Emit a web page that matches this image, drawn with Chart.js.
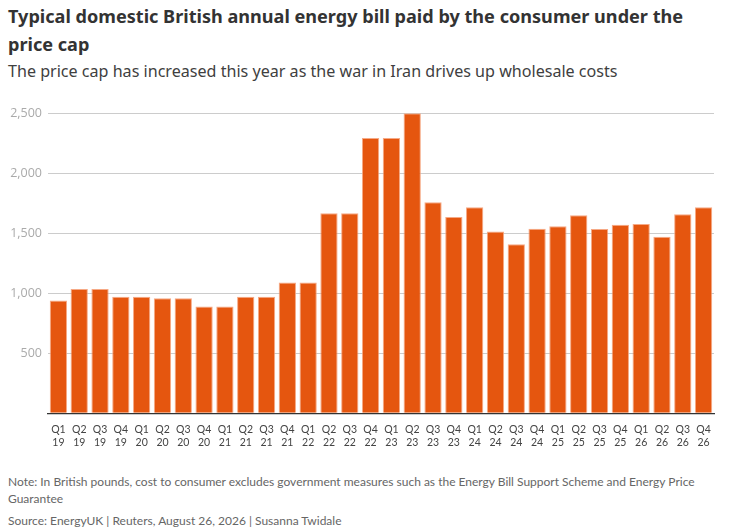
<!DOCTYPE html>
<html>
<head>
<meta charset="utf-8">
<script src="https://cdn.jsdelivr.net/npm/chart.js@4"></script>
<style>
  html, body { margin: 0; padding: 0; background: #fff; }
  body { width: 751px; height: 529px; position: relative; overflow: hidden; font-family: Lato, sans-serif; }
  .title { position: absolute; left: 8px; top: 2px; font-family: 'Noto Sans', sans-serif; font-size: 18.1px; font-weight: bold; line-height: 28px; color: #333; white-space: nowrap; }
  .subtitle { position: absolute; left: 8px; top: 61px; font-family: 'Noto Sans', sans-serif; font-size: 16.1px; line-height: 20px; color: #404040; white-space: nowrap; }
  .notes { position: absolute; left: 8px; top: 473px; font-size: 12px; line-height: 17px; color: #666; white-space: nowrap; }
  .source { position: absolute; left: 8px; top: 512px; font-size: 12px; line-height: 17px; color: #666; }
  #wrap { position: absolute; left: 0; top: 90px; width: 751px; height: 375px; }
</style>
</head>
<body>
<div class="title">Typical domestic British annual energy bill paid by the consumer under the<br>price cap</div>
<div class="subtitle">The price cap has increased this year as the war in Iran drives up wholesale costs</div>
<div id="wrap"><canvas id="bars"></canvas></div>
<div class="notes">Note: In British pounds, cost to consumer excludes government measures such as the Energy Bill Support Scheme and Energy Price<br>Guarantee</div>
<div class="source">Source: EnergyUK | Reuters, August 26, 2026 | Susanna Twidale</div>
<script>
var quarters = ['Q1','Q2','Q3','Q4','Q1','Q2','Q3','Q4','Q1','Q2','Q3','Q4','Q1','Q2','Q3','Q4',
                'Q1','Q2','Q3','Q4','Q1','Q2','Q3','Q4','Q1','Q2','Q3','Q4','Q1','Q2','Q3','Q4'];
var years = ['19','19','19','19','20','20','20','20','21','21','21','21','22','22','22','22',
             '23','23','23','23','24','24','24','24','25','25','25','25','26','26','26','26'];
var bill = [940, 1035, 1035, 972, 972, 958, 958, 891, 891, 971, 971, 1089, 1089, 1667, 1667, 2295,
            2295, 2500, 1758, 1636, 1717, 1514, 1408, 1538, 1558, 1650, 1536, 1572, 1578, 1472, 1658, 1717];
var yTicks = [500, 1000, 1500, 2000, 2500];

document.addEventListener('DOMContentLoaded', function() {
    var labels = quarters.map(function(q, i) { return [q, years[i]]; });
    var ctx = document.getElementById('bars').getContext('2d');
    var chart = new Chart(ctx, {
        type: 'bar',
        data: {
            labels: labels,
            datasets: [{
                data: bill,
                backgroundColor: '#e5560f',
                borderColor: 'rgba(245,160,120,0.9)',
                borderWidth: 1,
                borderSkipped: 'bottom',
                barPercentage: 0.83,
                categoryPercentage: 1
            }]
        },
        options: {
            responsive: true,
            maintainAspectRatio: false,
            animation: false,
            layout: { padding: { top: 23.3, right: 37, left: 0, bottom: 0 } },
            plugins: { legend: { display: false }, tooltip: { enabled: false } },
            scales: {
                x: {
                    grid: { display: false },
                    border: { color: '#333', width: 1.3 },
                    ticks: {
                        color: '#444',
                        font: { family: 'Lato', size: 10.5 },
                        padding: 2,
                        maxRotation: 0,
                        autoSkip: false,
                        lineHeight: 1.75
                    },
                    afterFit: function(axis) { axis.height = 51.7; }
                },
                y: {
                    min: 0,
                    max: 2500,
                    grid: { color: '#cccccc', lineWidth: 1, drawTicks: false },
                    border: { display: false },
                    afterBuildTicks: function(axis) {
                        axis.ticks = [0].concat(yTicks).map(function(v) { return { value: v }; });
                    },
                    ticks: {
                        color: '#aaa',
                        font: { family: 'Open Sans', size: 12.5 },
                        padding: 6,
                        callback: function(v) { return v === 0 ? '' : v.toLocaleString('en-US'); }
                    },
                    afterFit: function(axis) { axis.width = 48; }
                }
            }
        }
    });
});
</script>
</body>
</html>
